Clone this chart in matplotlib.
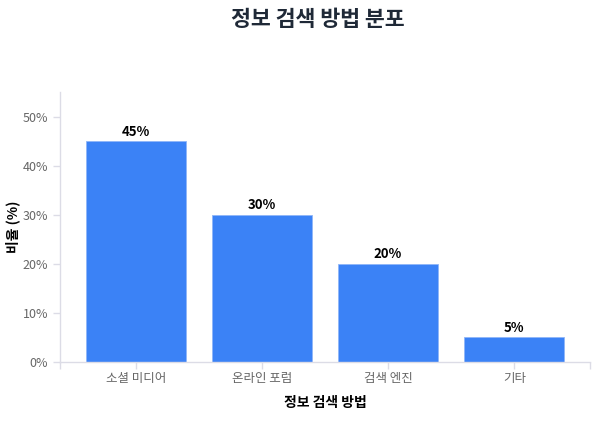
import matplotlib
matplotlib.use('Agg')
import matplotlib.pyplot as plt
from matplotlib.ticker import FixedLocator

plt.rcParams['font.family'] = ['Noto Sans CJK KR', 'DejaVu Sans']

categories = ['소셜 미디어', '온라인 포럼', '검색 엔진', '기타']
values = [45, 30, 20, 5]
yticks = [0, 10, 20, 30, 40, 50]

fig = plt.figure(figsize=(6, 4.23), dpi=100)
ax = fig.add_axes([60 / 600, 1 - 362 / 423, 530 / 600, 270 / 423])

x = list(range(len(categories)))
ax.bar(x, values, width=0.79, color='#3b82f6', edgecolor='#8fb6f8',
       linewidth=0.6, zorder=2)

for xi, v in zip(x, values):
    ax.text(xi, v + 0.5, f'{v}%', ha='center', va='bottom',
            fontsize=9.5, fontweight='bold', color='black')

ax.set_xlim(-0.6, 3.6)
ax.set_ylim(0, 55)
ax.set_xticks(x)
ax.set_xticklabels(categories)
ax.xaxis.set_minor_locator(FixedLocator([-0.6, 3.6]))
ax.set_yticks(yticks)
ax.set_yticklabels([f'{t}%' for t in yticks])

for side in ['top', 'right']:
    ax.spines[side].set_visible(False)
for side in ['left', 'bottom']:
    ax.spines[side].set_color('#dcdce6')
    ax.spines[side].set_linewidth(1)

ax.tick_params(axis='both', which='both', colors='#dcdce6', length=5, width=1,
               labelcolor='#666', labelsize=9)
ax.tick_params(axis='x', pad=2)

ax.set_xlabel('정보 검색 방법', fontsize=10, fontweight='bold', labelpad=8)
ax.set_ylabel('비율 (%)', fontsize=10, fontweight='bold', labelpad=2)

fig.text(318 / 600, 1 - 20 / 423, '정보 검색 방법 분포', ha='center', va='center',
         fontsize=15.6, fontweight='bold', color='#1f2937')

plt.savefig('out.png', dpi=100)
